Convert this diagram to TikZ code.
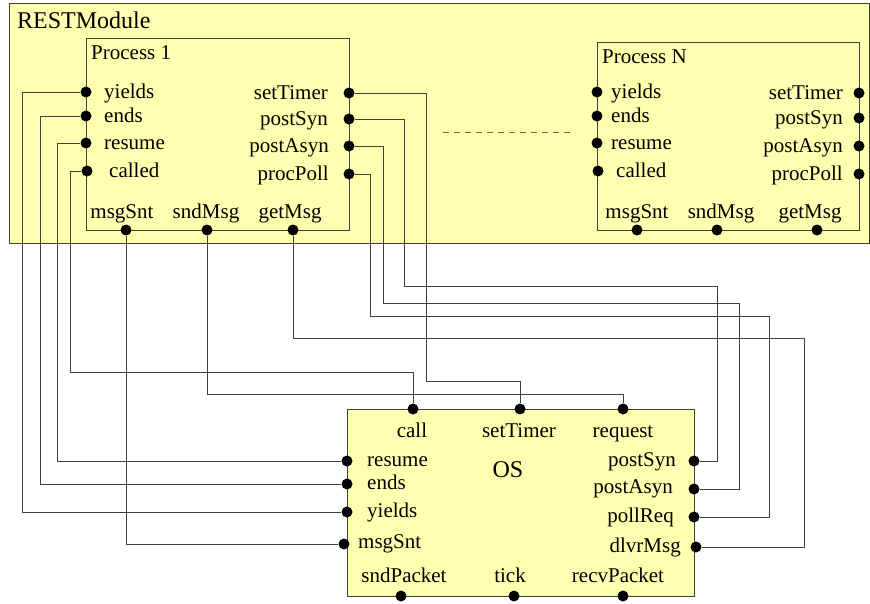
\documentclass[tikz,border=0pt]{standalone}
\usepackage{fontspec}
\setmainfont{Liberation Serif}
\definecolor{modyellow}{RGB}{255,255,176}

\begin{document}
\begin{tikzpicture}[x=1pt, y=-1pt,
    box/.style={draw=black!75, fill=modyellow, line width=0.9pt},
    port/.style={circle, fill=black, inner sep=0pt, minimum size=11pt},
    lbl/.style={inner sep=0pt, font=\fontsize{21}{24}\selectfont},
    big/.style={inner sep=0pt, font=\fontsize{24}{28}\selectfont},
    wire/.style={draw=black!75, line width=0.9pt}]
        \useasboundingbox (0,0) rectangle (870,603);

        % Define boxes
        \draw[box] (9,3) rectangle (869,243);
        \draw[box] (86,38) rectangle (349,230);
        \draw[box] (597,42) rectangle (859,230);
        \draw[box] (347,409) rectangle (694,596);

        \node at (17,28) (rest) [big, anchor=base west] {RESTModule};
        \node at (91,59) (proc1) [lbl, anchor=base west] {Process 1};
        \node at (602,63) (procN) [lbl, anchor=base west] {Process N};
        \node at (508,477) (os) [big, anchor=base] {OS};

        % Define ports of Process 1
        \node at (86,92) (p1yields) [port] {};
        \node at (86,116) (p1ends) [port] {};
        \node at (86,143) (p1resume) [port] {};
        \node at (87,171) (p1called) [port] {};
        \node at (349,93) (p1settimer) [port] {};
        \node at (349,119) (p1postsyn) [port] {};
        \node at (349,146) (p1postasyn) [port] {};
        \node at (349,174) (p1procpoll) [port] {};
        \node at (126,230) (p1msgsnt) [port] {};
        \node at (207,230) (p1sndmsg) [port] {};
        \node at (293,230) (p1getmsg) [port] {};

        \node at (104,98) (l1yields) [lbl, anchor=base west] {yields};
        \node at (104,122) (l1ends) [lbl, anchor=base west] {ends};
        \node at (104,149) (l1resume) [lbl, anchor=base west] {resume};
        \node at (109,177) (l1called) [lbl, anchor=base west] {called};
        \node at (328,99) (l1settimer) [lbl, anchor=base east] {setTimer};
        \node at (328,125) (l1postsyn) [lbl, anchor=base east] {postSyn};
        \node at (329,152) (l1postasyn) [lbl, anchor=base east] {postAsyn};
        \node at (329,180) (l1procpoll) [lbl, anchor=base east] {procPoll};
        \node at (122,218) (l1msgsnt) [lbl, anchor=base] {msgSnt};
        \node at (206,218) (l1sndmsg) [lbl, anchor=base] {sndMsg};
        \node at (290,218) (l1getmsg) [lbl, anchor=base] {getMsg};

        % Define ports of Process N
        \node at (597,92) (pNyields) [port] {};
        \node at (597,116) (pNends) [port] {};
        \node at (597,143) (pNresume) [port] {};
        \node at (598,171) (pNcalled) [port] {};
        \node at (859,93) (pNsettimer) [port] {};
        \node at (859,118) (pNpostsyn) [port] {};
        \node at (859,146) (pNpostasyn) [port] {};
        \node at (859,174) (pNprocpoll) [port] {};
        \node at (637,230) (pNmsgsnt) [port] {};
        \node at (717,230) (pNsndmsg) [port] {};
        \node at (817,230) (pNgetmsg) [port] {};

        \node at (611,98) (lNyields) [lbl, anchor=base west] {yields};
        \node at (611,122) (lNends) [lbl, anchor=base west] {ends};
        \node at (611,149) (lNresume) [lbl, anchor=base west] {resume};
        \node at (616,177) (lNcalled) [lbl, anchor=base west] {called};
        \node at (843,99) (lNsettimer) [lbl, anchor=base east] {setTimer};
        \node at (843,124) (lNpostsyn) [lbl, anchor=base east] {postSyn};
        \node at (843,152) (lNpostasyn) [lbl, anchor=base east] {postAsyn};
        \node at (843,180) (lNprocpoll) [lbl, anchor=base east] {procPoll};
        \node at (637,218) (lNmsgsnt) [lbl, anchor=base] {msgSnt};
        \node at (721,218) (lNsndmsg) [lbl, anchor=base] {sndMsg};
        \node at (810,218) (lNgetmsg) [lbl, anchor=base] {getMsg};

        % Define ports of OS
        \node at (413,409) (oscall) [port] {};
        \node at (520,409) (ossettimer) [port] {};
        \node at (623,409) (osrequest) [port] {};
        \node at (347,461) (osresume) [port] {};
        \node at (347,484) (osends) [port] {};
        \node at (347,512) (osyields) [port] {};
        \node at (344,544) (osmsgsnt) [port] {};
        \node at (694,461) (ospostsyn) [port] {};
        \node at (694,489) (ospostasyn) [port] {};
        \node at (694,517) (ospollreq) [port] {};
        \node at (696,547) (osdlvrmsg) [port] {};
        \node at (401,596) (ossndpacket) [port] {};
        \node at (514,596) (ostick) [port] {};
        \node at (623,596) (osrecvpacket) [port] {};

        \node at (412,437) (loscall) [lbl, anchor=base] {call};
        \node at (519,437) (lossettimer) [lbl, anchor=base] {setTimer};
        \node at (623,437) (losrequest) [lbl, anchor=base] {request};
        \node at (367,466) (losresume) [lbl, anchor=base west] {resume};
        \node at (367,489) (losends) [lbl, anchor=base west] {ends};
        \node at (367,517) (losyields) [lbl, anchor=base west] {yields};
        \node at (358,548) (losmsgsnt) [lbl, anchor=base west] {msgSnt};
        \node at (676,466) (lospostsyn) [lbl, anchor=base east] {postSyn};
        \node at (673,493) (lospostasyn) [lbl, anchor=base east] {postAsyn};
        \node at (674,522) (lospollreq) [lbl, anchor=base east] {pollReq};
        \node at (681,552) (losdlvrmsg) [lbl, anchor=base east] {dlvrMsg};
        \node at (404,582) (lossndpacket) [lbl, anchor=base] {sndPacket};
        \node at (510,582) (lostick) [lbl, anchor=base] {tick};
        \node at (618,582) (losrecvpacket) [lbl, anchor=base] {recvPacket};

        % Dashes between the processes
        \coordinate (dashL) at (443,132);
        \coordinate (dashR) at (575,132);
        \draw[black!60, line width=0.9pt, dash pattern=on 6pt off 5pt] (dashL) -- (dashR);

        % Draw wires
        \draw[wire] (p1yields) -| (22,512) -- (osyields);
        \draw[wire] (p1ends) -| (40,484) -- (osends);
        \draw[wire] (p1resume) -| (57,461) -- (osresume);
        \draw[wire] (p1called) -| (70,372) -| (oscall);
        \draw[wire] (p1msgsnt) |- (osmsgsnt);
        \draw[wire] (p1sndmsg) -- (207,394) -| (osrequest);
        \draw[wire] (p1getmsg) -- (293,338) -| (804,547) -- (osdlvrmsg);
        \draw[wire] (p1settimer) -| (426,381) -| (ossettimer);
        \draw[wire] (p1postsyn) -| (404,286) -| (717,461) -- (ospostsyn);
        \draw[wire] (p1postasyn) -| (383,303) -| (739,489) -- (ospostasyn);
        \draw[wire] (p1procpoll) -| (370,316) -| (769,517) -- (ospollreq);
    \end{tikzpicture}
\end{document}
